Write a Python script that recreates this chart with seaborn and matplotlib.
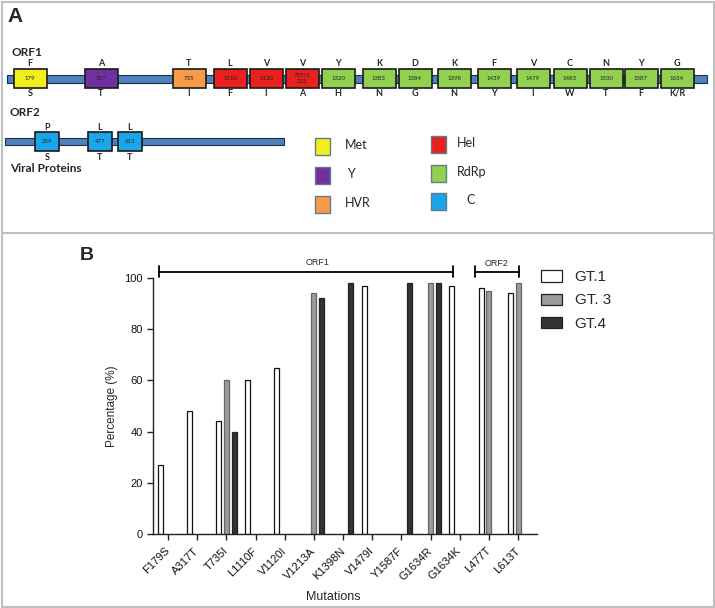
import numpy as np
import pandas as pd
import seaborn as sns
import matplotlib.pyplot as plt
from matplotlib.patches import Rectangle

sns.set_theme(style="ticks")
plt.rcParams['font.family'] = ['Liberation Sans', 'DejaVu Sans']

# ---- panel A: schematic of the sites ----
orf1_sites = ['179', '317', '735', '1110', '1120', '739/1\n213', '1320', '1383', '1384',
              '1398', '1439', '1479', '1483', '1530', '1587', '1634']
orf1_wt = ['F', 'A', 'T', 'L', 'V', 'V', 'Y', 'K', 'D', 'K', 'F', 'V', 'C', 'N', 'Y', 'G']
orf1_mut = ['S', 'T', 'I', 'F', 'I', 'A', 'H', 'N', 'G', 'N', 'Y', 'I', 'W', 'T', 'F', 'K/R']
orf1_dom = ['Met', 'Y', 'HVR', 'Hel', 'Hel', 'Hel'] + ['RdRp'] * 10

orf2_sites = ['259', '477', '613']
orf2_wt = ['P', 'L', 'L']
orf2_mut = ['S', 'T', 'T']
orf2_dom = ['C', 'C', 'C']

domains = ['Met', 'Y', 'HVR', 'Hel', 'RdRp', 'C']
dom_colors = {'Met': '#f2ee1e', 'Y': '#7030a0', 'HVR': '#f9994a',
              'Hel': '#e8211f', 'RdRp': '#92d050', 'C': '#1ba6ea'}

# ---- panel B: mutation frequencies ----
mutations = ['F179S', 'A317T', 'T735I', 'L1110F', 'V1120I', 'V1213A', 'K1398N',
             'V1479I', 'Y1587F', 'G1634R', 'G1634K', 'L477T', 'L613T']
genotypes = ['GT.1', 'GT. 3', 'GT.4']
gt1 = [27, 48, 44, 60, 65, np.nan, np.nan, 97, np.nan, np.nan, 97, 96, 94]
gt3 = [np.nan, np.nan, 60, np.nan, np.nan, 94, np.nan, np.nan, np.nan, 98, np.nan, 95, 98]
gt4 = [np.nan, np.nan, 40, np.nan, np.nan, 92, 98, np.nan, 98, 98, np.nan, np.nan, np.nan]

fig = plt.figure(figsize=(7.15, 6.08), dpi=100)

# background axes in pixel units, used for the diagram and the frames
bg = fig.add_axes([0, 0, 1, 1])
bg.set_xlim(0, 715)
bg.set_ylim(608, 0)
bg.axis('off')
bg.add_patch(Rectangle((1.5, 1.5), 712, 605, fill=False, ec='#c0c0c0', lw=1.5))
bg.plot([1.5, 713.5], [233, 233], color='#c0c0c0', lw=1.5)

bg.text(7, 16, 'A', fontsize=15, fontweight='bold', va='center', ha='left')
bg.text(80, 255, 'B', fontsize=14, fontweight='bold', va='center', ha='left')

afont = ['Lato', 'DejaVu Sans']
orf1_x = [30, 101, 189, 230, 266, 302, 338, 379, 415, 454, 494, 533, 570, 606, 641, 677]
orf2_x = [47, 100, 130]

bg.text(12, 52, 'ORF1', fontsize=8.5, fontweight='bold', va='center', family=afont)
bg.add_patch(Rectangle((7, 75), 700, 8, fc='#4f81bd', ec='#1c2e48', lw=0.8))
for x, s, w, m, d in zip(orf1_x, orf1_sites, orf1_wt, orf1_mut, orf1_dom):
    bg.add_patch(Rectangle((x - 16.5, 69), 33, 19, fc=dom_colors[d], ec='#1a1a1a', lw=1.2))
    bg.text(x, 78.5, s, fontsize=4.3, ha='center', va='center', color='#222222',
            family=afont, linespacing=1.4)
    bg.text(x, 63, w, fontsize=6.5, fontweight='bold', ha='center', va='center', family=afont)
    bg.text(x, 93, m, fontsize=6.5, fontweight='bold', ha='center', va='center', family=afont)

bg.text(10, 113, 'ORF2', fontsize=8.5, fontweight='bold', va='center', family=afont)
bg.add_patch(Rectangle((5, 138), 279, 6.5, fc='#4f81bd', ec='#1c2e48', lw=0.8))
for x, s, w, m, d in zip(orf2_x, orf2_sites, orf2_wt, orf2_mut, orf2_dom):
    bg.add_patch(Rectangle((x - 12, 132), 24, 19, fc=dom_colors[d], ec='#1a1a1a', lw=1.2))
    bg.text(x, 141.5, s, fontsize=4.3, ha='center', va='center', color='#222222', family=afont)
    bg.text(x, 127, w, fontsize=6.5, fontweight='bold', ha='center', va='center', family=afont)
    bg.text(x, 157, m, fontsize=6.5, fontweight='bold', ha='center', va='center', family=afont)
bg.text(10, 168, 'Viral Proteins', fontsize=8.5, fontweight='bold', va='center', family=afont)

leg_pos = {'Met': (315, 146, 345), 'Y': (315, 175, 347), 'HVR': (315, 204, 345),
           'Hel': (431, 144, 457), 'RdRp': (431, 173, 457), 'C': (431, 201, 466)}
for d in domains:
    bx, by, tx = leg_pos[d]
    bg.add_patch(Rectangle((bx, by - 8.5), 15, 17, fc=dom_colors[d], ec='#5d7d8c', lw=1))
    bg.text(tx, by - 1, d, fontsize=9, ha='left', va='center', family=afont)

# ---- bar chart ----
df = pd.DataFrame({'Mutation': mutations * 3,
                   'Genotype': [g for g in genotypes for _ in mutations],
                   'Percentage': gt1 + gt3 + gt4}).dropna()

ax = fig.add_axes([153 / 715, 74 / 608, 384 / 715, 256 / 608])
ax.patch.set_alpha(0)
sns.barplot(data=df, x='Mutation', y='Percentage', hue='Genotype', order=mutations,
            hue_order=genotypes, palette={'GT.1': 'white', 'GT. 3': '#9a9b9e', 'GT.4': '#333333'},
            gap=0.35, errorbar=None, linewidth=0.9, edgecolor='#222222', ax=ax)
edge = ['#111111', '#666666', '#222222']
for cont, ec in zip(ax.containers, edge):
    for p in cont.patches:
        p.set_edgecolor(ec)

ax.set_xlim(-0.514, 12.65)
ax.set_ylim(0, 100)
ax.set_yticks([0, 20, 40, 60, 80, 100])
ax.set_xticks(range(len(mutations)))
ax.set_xticklabels(mutations, rotation=45, ha='right', va='center', rotation_mode='anchor')
ax.tick_params(axis='both', labelsize=8, length=4, width=1, color='#222222', labelcolor='#111111')
ax.tick_params(axis='x', pad=7)
sns.despine(ax=ax)
for sp in ['left', 'bottom']:
    ax.spines[sp].set_linewidth(1)
    ax.spines[sp].set_color('#222222')

ax.set_xlabel('Mutations', fontsize=9)
ax.set_ylabel('Percentage (%)', fontsize=8.5)
ax.xaxis.set_label_coords(0.469, -0.222)
ax.yaxis.set_label_coords(-0.092, 0.5)

# region brackets
for x0, x1, lab, lx, ly in [(-0.31, 9.77, 'ORF1', 5.14, 106.2), (10.52, 12.03, 'ORF2', 11.25, 105.6)]:
    ax.plot([x0, x1], [102.3, 102.3], color='black', lw=1.3, clip_on=False)
    for xe in (x0, x1):
        ax.plot([xe, xe], [100.3, 104.6], color='black', lw=1.3, clip_on=False)
    ax.text(lx, ly, lab, fontsize=6.5, ha='center', va='center')

handles, labels = ax.get_legend_handles_labels()
ax.legend(handles, genotypes, loc='upper left', bbox_to_anchor=(1.0104, 1.03), frameon=False,
          fontsize=11, handlelength=1.4, handleheight=0.75, handletextpad=0.8,
          labelspacing=0.6, borderaxespad=0, borderpad=0)

fig.savefig('out.png', dpi=100)
